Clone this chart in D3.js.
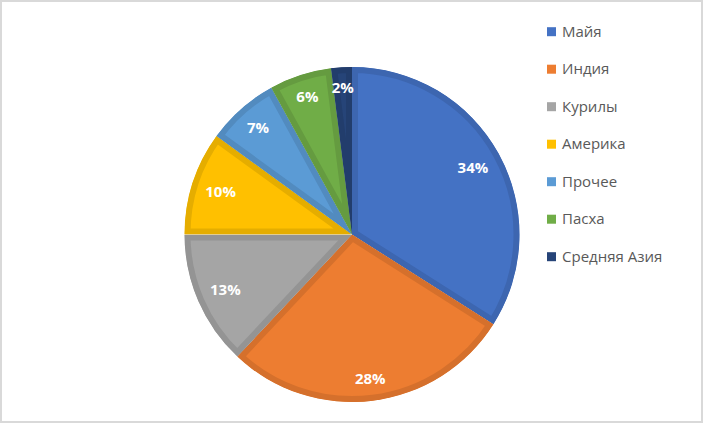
<!DOCTYPE html>
<html><head><meta charset="utf-8">
<script src="https://cdn.jsdelivr.net/npm/d3@7"></script>
<style>body{margin:0;background:#fff}svg{display:block}</style>
</head><body>
<script>
const categories = ["Майя","Индия","Курилы","Америка","Прочее","Пасха","Средняя Азия"];
const values = [34,28,13,10,7,6,2];
const colors = ["#4472C4","#ED7D31","#A5A5A5","#FFC000","#5B9BD5","#70AD47","#264478"];

const W=703,H=423;
const svg=d3.select("body").append("svg").attr("width",W).attr("height",H);
svg.append("rect").attr("x",1).attr("y",1).attr("width",W-2).attr("height",H-2)
  .attr("fill","#fff").attr("stroke","#d9d9d9").attr("stroke-width",2);

const cx=352, cy=234.5, R=167.5;
const data=categories.map((c,i)=>({cat:c,value:values[i],color:colors[i]}));
const pie=d3.pie().value(d=>d.value).sort(null);
const arcs=pie(data);
const arc=d3.arc().innerRadius(0).outerRadius(R);
const total=d3.sum(values);

const g=svg.append("g").attr("transform",`translate(${cx},${cy})`);
const defs=svg.append("defs");
arcs.forEach((a,i)=>{
  defs.append("clipPath").attr("id","cp"+i).append("path").attr("d",arc(a));
});
g.selectAll("path.slice").data(arcs).join("path").attr("class","slice")
  .attr("d",arc)
  .attr("fill",d=>d.data.color)
  .attr("stroke",d=>d3.color(d.data.color).darker(0.3))
  .attr("stroke-width",12)
  .attr("stroke-linejoin","round")
  .attr("clip-path",(d,i)=>`url(#cp${i})`);

// inside-end labels: box inset from outer edge by a margin
const margin=12;
g.selectAll("text.lbl").data(arcs).join("text").attr("class","lbl")
  .attr("text-anchor","middle").attr("dy","0.35em")
  .attr("fill","#fff").attr("font-family","'Open Sans',sans-serif")
  .attr("font-weight","bold").attr("font-size",15)
  .text(d=>Math.round(d.data.value/total*100)+"%")
  .each(function(d){
    const bb=this.getBBox();
    const a=(d.startAngle+d.endAngle)/2;
    const hw=bb.width/2, hh=8;
    const ext=hw*Math.abs(Math.sin(a))+hh*Math.abs(Math.cos(a));
    const r=R-margin-ext;
    d3.select(this).attr("transform",`translate(${r*Math.sin(a)},${-r*Math.cos(a)})`);
  });

const lg=svg.append("g");
const ly=d3.scalePoint().domain(categories).range([31.7,256.7]);
const items=lg.selectAll("g").data(data).join("g")
  .attr("transform",d=>`translate(547,${ly(d.cat)})`);
items.append("rect").attr("x",0).attr("y",-4.5).attr("width",9).attr("height",9).attr("fill",d=>d.color);
items.append("text").attr("x",15).attr("dy","0.35em")
  .attr("font-family","'Open Sans',sans-serif").attr("font-size",15).attr("fill","#595959")
  .text(d=>d.cat);
</script>
</body></html>
